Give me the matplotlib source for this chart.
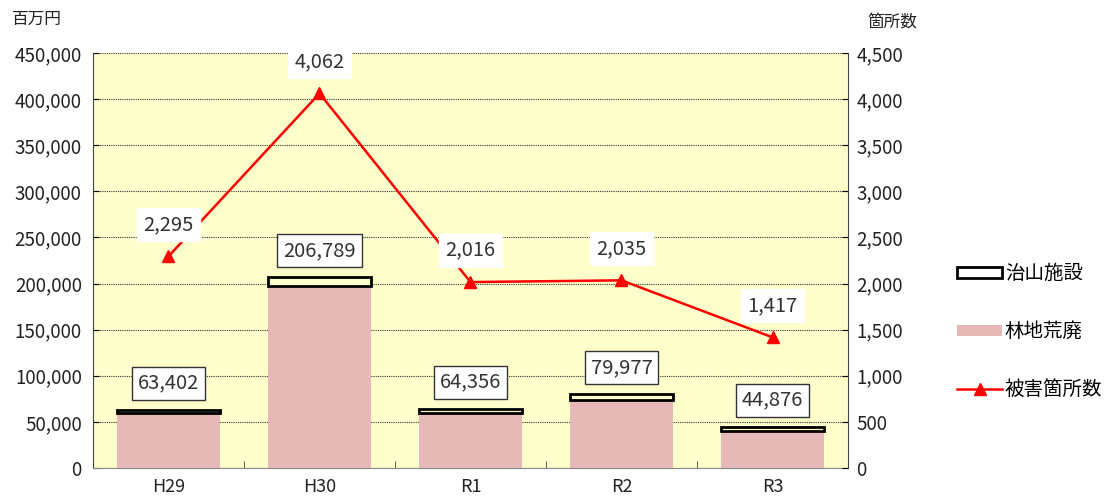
import matplotlib
matplotlib.use("Agg")
import matplotlib.pyplot as plt
from matplotlib.patches import Patch
from matplotlib.lines import Line2D
from matplotlib.ticker import FuncFormatter, MultipleLocator

plt.rcParams['font.family'] = ['Noto Sans CJK JP', 'DejaVu Sans']

categories = ["H29", "H30", "R1", "R2", "R3"]
totals = [63402, 206789, 64356, 79977, 44876]
chisan = [4000, 9500, 4400, 6500, 4500]
rinchi = [t - c for t, c in zip(totals, chisan)]
counts = [2295, 4062, 2016, 2035, 1417]

fig = plt.figure(figsize=(11.12, 4.99), dpi=100)
ax = fig.add_axes([0.0836, 0.0621, 0.679, 0.8317])
ax.set_facecolor("#FFFFCC")
x = list(range(len(categories)))
w = 0.68
ax.bar(x, rinchi, width=w, color="#E6B8B7", zorder=2)
ax.bar(x, chisan, width=w, bottom=rinchi, color="#FFFFCC", edgecolor="black", linewidth=2, zorder=3)
ax.set_xlim(-0.5, 4.5)
ax.set_ylim(0, 450000)
ax.yaxis.set_major_locator(MultipleLocator(50000))
ax.yaxis.set_major_formatter(FuncFormatter(lambda v, p: f"{int(v):,}"))
ax.grid(axis="y", color="#333333", linestyle=(0, (1, 1)), linewidth=0.8, zorder=1)
ax.set_axisbelow(True)
ax.set_xticks(x)
ax.set_xticklabels(categories, fontsize=13, color="#222222")
ax.set_xticks([i + 0.5 for i in range(-1, 5)], minor=True)
ax.tick_params(axis="x", which="major", length=0, pad=7)
ax.tick_params(axis="x", which="minor", direction="in", length=5, color="#444444")
ax.tick_params(axis="y", direction="in", length=4, labelsize=13.5, labelcolor="#222222", pad=8)
for s in ["top", "right"]:
    ax.spines[s].set_visible(False)
ax.spines["left"].set_color("#444444")
ax.spines["bottom"].set_color("#888888")

for xi, t in zip(x, totals):
    ax.annotate(f"{t:,}", (xi, t), xytext=(0, 19), textcoords="offset points",
                ha="center", va="center", fontsize=14.5, color="#333333",
                bbox=dict(boxstyle="square,pad=0.3", fc="white", ec="#333333", lw=1), zorder=5)

ax2 = ax.twinx()
ax2.set_ylim(0, 4500)
ax2.yaxis.set_major_locator(MultipleLocator(500))
ax2.yaxis.set_major_formatter(FuncFormatter(lambda v, p: f"{int(v):,}"))
ax2.tick_params(axis="y", direction="in", length=4, labelsize=13.5, labelcolor="#222222", pad=6)
for s in ["top", "left", "bottom"]:
    ax2.spines[s].set_visible(False)
ax2.spines["right"].set_color("#444444")
ax2.plot(x, counts, color="#FF0000", marker="^", markersize=9, linewidth=1.8, zorder=4)
for xi, c in zip(x, counts):
    ax2.annotate(f"{c:,}", (xi, c), xytext=(0, 23), textcoords="offset points",
                 ha="center", va="center", fontsize=14.5, color="#333333",
                 bbox=dict(boxstyle="square,pad=0.3", fc="white", ec="white", lw=1), zorder=5)

fig.text(0.011, 0.952, "百万円", fontsize=12, color="#222222")
fig.text(0.780, 0.945, "箇所数", fontsize=12, color="#222222")

handles = [Patch(facecolor="white", edgecolor="black", linewidth=2),
           Patch(facecolor="#E6B8B7", edgecolor="none"),
           Line2D([0], [0], color="#FF0000", marker="^", markersize=9, linewidth=1.8)]
labels = ["治山施設", "林地荒廃", "被害箇所数"]
fig.legend(handles, labels, loc="center left", bbox_to_anchor=(0.845, 0.335),
           frameon=False, fontsize=14, labelspacing=1.9, handlelength=2.3,
           handletextpad=0.15, handleheight=0.5)

fig.savefig("out.png", dpi=100)
